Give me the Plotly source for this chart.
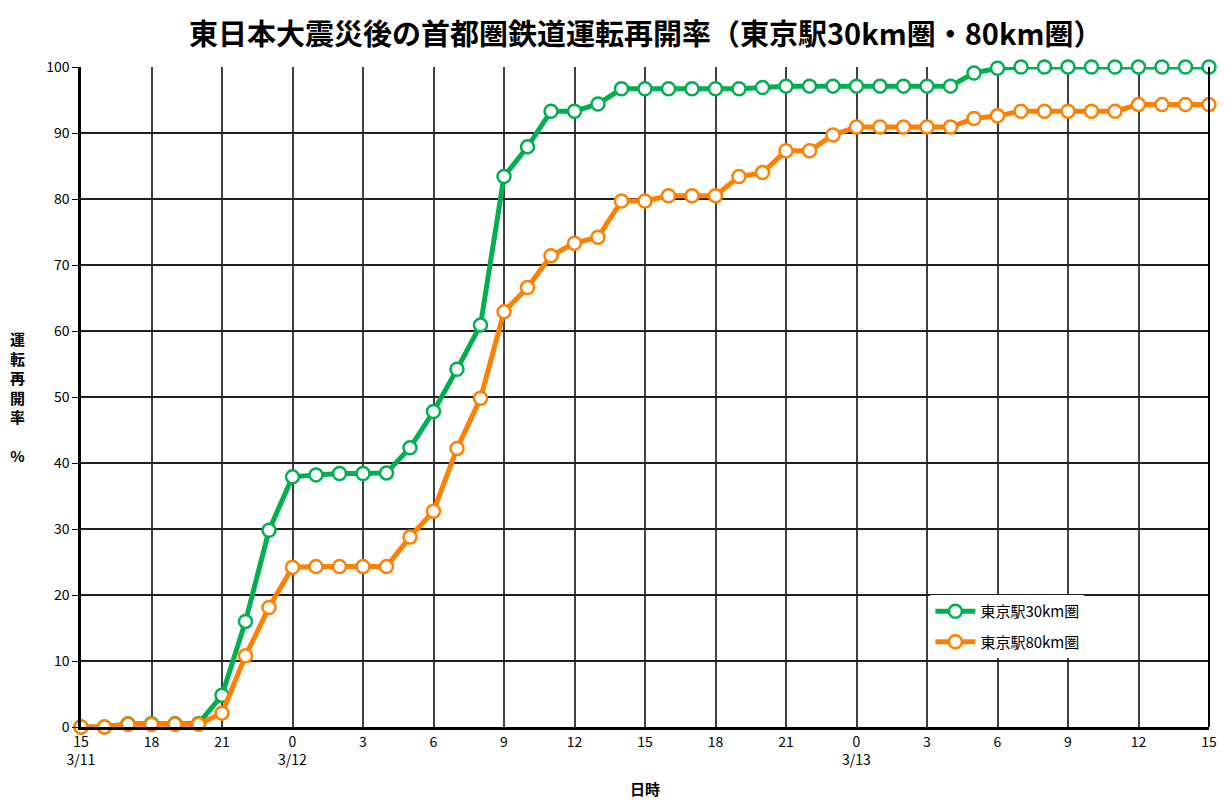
import plotly.graph_objects as go

hours = list(range(49))
tick_hours = list(range(0, 49, 3))
tick_labels = ["15<br>3/11", "18", "21", "0<br>3/12", "3", "6", "9", "12", "15", "18", "21",
               "0<br>3/13", "3", "6", "9", "12", "15"]

rate_30km = [0, 0, 0.5, 0.5, 0.5, 0.5, 4.8, 16.0, 29.8, 37.9, 38.2, 38.4, 38.4, 38.5,
             42.3, 47.8, 54.2, 60.9, 83.4, 87.9, 93.3, 93.3, 94.4, 96.7, 96.7, 96.7,
             96.7, 96.7, 96.7, 96.9, 97.1, 97.1, 97.1, 97.1, 97.1, 97.1, 97.1, 97.1,
             99.1, 99.8, 100, 100, 100, 100, 100, 100, 100, 100, 100]
rate_80km = [0, 0, 0.4, 0.4, 0.4, 0.4, 2.1, 10.8, 18.1, 24.2, 24.3, 24.3, 24.3, 24.3,
             28.8, 32.7, 42.2, 49.8, 62.9, 66.6, 71.4, 73.3, 74.2, 79.7, 79.7, 80.5,
             80.5, 80.5, 83.4, 84.0, 87.3, 87.3, 89.7, 90.9, 90.9, 90.9, 90.9, 90.9,
             92.2, 92.6, 93.3, 93.3, 93.3, 93.3, 93.3, 94.3, 94.3, 94.3, 94.3]

GREEN = "#00B050"
ORANGE = "#FF8000"
FONT = "Noto Sans CJK JP"
TITLE = "<b>東日本大震災後の首都圏鉄道運転再開率（東京駅30km圏・80km圏）</b>"

fig = go.Figure()
for i, (name, vals, col) in enumerate([("東京駅30km圏", rate_30km, GREEN), ("東京駅80km圏", rate_80km, ORANGE)]):
    fig.add_trace(go.Scatter(
        x=hours, y=vals, name=name, mode="lines+markers", legendgroup=f"g{i}",
        line=dict(color=col, width=5),
        marker=dict(symbol="circle", size=13, color="white", line=dict(color=col, width=2.5)),
        cliponaxis=False,
    ))

fig.update_layout(
    width=1209, height=791,
    margin=dict(l=73, r=8, t=59, b=72),
    paper_bgcolor="white", plot_bgcolor="white",
    font=dict(family=FONT, size=14, color="#000000"),
    showlegend=True,
    legend=dict(x=0.753, y=0.2, xanchor="left", yanchor="top",
                bgcolor="white", borderwidth=0, traceorder="grouped",
                font=dict(family=FONT, size=15, color="#000000"),
                tracegroupgap=8, itemwidth=40),
    xaxis=dict(range=[0, 48], tickmode="array", tickvals=tick_hours, ticktext=tick_labels,
               showgrid=True, gridcolor="#404040", gridwidth=1.5, automargin=False,
               showline=True, linecolor="#000000", linewidth=2.5, mirror=False,
               ticks="", zeroline=False, tickfont=dict(size=14),
               title=dict(text="<b>日時</b>", font=dict(size=15), standoff=24)),
    yaxis=dict(range=[0, 100], tickmode="array", tickvals=list(range(0, 101, 10)),
               showgrid=True, gridcolor="#202020", gridwidth=1.5, automargin=False,
               showline=True, linecolor="#000000", linewidth=2.5,
               ticks="outside", ticklen=6, tickcolor="#000000", zeroline=False,
               tickfont=dict(size=14)),
    annotations=[
        dict(text=TITLE, xref="paper", yref="paper", x=0.5, y=1 + 58 / 660,
             xanchor="center", yanchor="top", showarrow=False,
             font=dict(family=FONT, size=29, color="#000000")),
        dict(text="<b>運<br>転<br>再<br>開<br>率<br><br>%</b>", xref="paper", yref="paper",
             x=-0.056, y=0.5, xanchor="center", yanchor="middle", showarrow=False,
             font=dict(family=FONT, size=15, color="#000000"), align="center"),
    ],
)
fig.add_shape(type="line", xref="paper", yref="paper", x0=1, x1=1, y0=0, y1=1,
              line=dict(color="#000000", width=2))

fig.write_html("out.html")
